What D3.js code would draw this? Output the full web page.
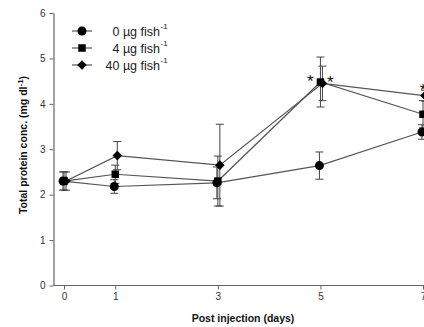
<!DOCTYPE html>
<html><head><meta charset="utf-8">
<script src="https://cdn.jsdelivr.net/npm/d3@7"></script>
<style>body{margin:0;background:#fff;}svg{display:block;font-family:"Liberation Sans",Arial,sans-serif;}</style>
</head><body><svg id="c" width="424" height="327"></svg>
<script>
const days = [0, 1, 3, 5, 7];
const yTicks = [0, 1, 2, 3, 4, 5, 6];
const seriesNames = ["0 \u00b5g fish", "4 \u00b5g fish", "40 \u00b5g fish"];
const seriesShapes = ["circle", "square", "diamond"];
const dose0 = [2.30, 2.18, 2.26, 2.64, 3.38];
const dose0Err = [0.20, 0.15, 0.35, 0.30, 0.16];
const dose4 = [2.30, 2.45, 2.30, 4.48, 3.77];
const dose4Err = [0.20, 0.20, 0.55, 0.55, 0.30];
const dose40 = [2.30, 2.86, 2.65, 4.45, 4.18];
const dose40Err = [0.20, 0.31, 0.90, 0.38, 0.12];
const starPoints = [[5, 1], [5, 2], [7, 2]];

const values = [dose0, dose4, dose40];
const errs = [dose0Err, dose4Err, dose40Err];
const offsets = [-1, 0, 2];

const svg = d3.select("#c");
const x = d3.scaleLinear().domain([0, 7]).range([64, 423]);
const y = d3.scaleLinear().domain([0, 6]).range([285.5, 13]);
const axisCol = "#666", lineCol = "#555";

// axes
const xa = svg.append("g").attr("transform", "translate(0,285.5)")
  .call(d3.axisBottom(x).tickValues(days).tickFormat(d3.format("d")).tickSize(4).tickPadding(3).tickSizeOuter(0));
xa.select(".domain").attr("d", "M53.5,0H430");
const ya = svg.append("g").attr("transform", "translate(53.5,0)")
  .call(d3.axisLeft(y).tickValues(yTicks).tickFormat(d3.format("d")).tickSize(4).tickPadding(4).tickSizeOuter(0));
[xa, ya].forEach(g => {
  g.select(".domain").attr("stroke", axisCol).attr("stroke-width", 1.2);
  g.selectAll(".tick line").attr("stroke", axisCol);
  g.selectAll(".tick text").attr("fill", "#333").style("font-size", "10px").style("font-family", "Liberation Sans, Arial, sans-serif");
});

const sym = {
  circle: d3.symbol().type(d3.symbolCircle).size(64)(),
  square: d3.symbol().type(d3.symbolSquare).size(56)(),
  diamond: d3.symbol().type(d3.symbolSquare).size(46)()
};
const rot = { circle: 0, square: 0, diamond: 45 };

values.forEach((vals, s) => {
  const pts = days.map((d, i) => ({ px: x(d) + offsets[s], v: vals[i], e: errs[s][i] }));
  const line = d3.line().x(p => p.px).y(p => y(p.v));
  svg.append("path").datum(pts).attr("d", line).attr("fill", "none")
    .attr("stroke", lineCol).attr("stroke-width", 1.2);
  const eb = svg.append("g").attr("stroke", "#444").attr("stroke-width", 1);
  pts.forEach(p => {
    eb.append("line").attr("x1", p.px).attr("x2", p.px).attr("y1", y(p.v - p.e)).attr("y2", y(p.v + p.e));
    [p.v - p.e, p.v + p.e].forEach(v => eb.append("line")
      .attr("x1", p.px - 4).attr("x2", p.px + 4).attr("y1", y(v)).attr("y2", y(v)));
  });
});
values.forEach((vals, s) => {
  svg.append("g").selectAll("path").data(days.map((d, i) => [x(d) + offsets[s], y(vals[i])]))
    .join("path").attr("d", sym[seriesShapes[s]])
    .attr("transform", p => `translate(${p[0]},${p[1]}) rotate(${rot[seriesShapes[s]]})`)
    .attr("fill", "#000");
});

// asterisks
starPoints.forEach(([d, s]) => {
  const i = days.indexOf(d);
  const v = values[s][i];
  let px, py;
  if (d === 5) { px = x(d) + (s === 1 ? -10 : 10); py = y(v) - 5; }
  else { px = x(d); py = y(v + errs[s][i]) - 4; }
  svg.append("text").attr("x", px).attr("y", py + 10).attr("text-anchor", "middle")
    .style("font-size", "17px").attr("fill", "#111").text("*");
});

// legend
const lg = svg.append("g");
seriesNames.forEach((n, s) => {
  const ly = 31 + s * 17;
  lg.append("line").attr("x1", 72).attr("x2", 92).attr("y1", ly).attr("y2", ly).attr("stroke", lineCol).attr("stroke-width", 1.2);
  lg.append("path").attr("d", sym[seriesShapes[s]])
    .attr("transform", `translate(82,${ly}) rotate(${rot[seriesShapes[s]]})`).attr("fill", "#000");
  const t = lg.append("text").attr("x", 160).attr("y", ly + 4.5).attr("text-anchor", "end")
    .style("font-size", "12.5px").attr("fill", "#222");
  t.append("tspan").text(n);
  lg.append("text").attr("x", 160.5).attr("y", ly - 2).style("font-size", "8px").attr("fill", "#222").text("-1");
});

// titles
svg.append("text").attr("x", 243).attr("y", 322).attr("text-anchor", "middle")
  .style("font-size", "10.5px").style("font-weight", "bold").attr("fill", "#111").text("Post injection (days)");
const yt = svg.append("text").attr("transform", "translate(27,145) rotate(-90)").attr("text-anchor", "middle")
  .style("font-size", "10.5px").style("font-weight", "bold").attr("fill", "#111");
yt.append("tspan").text("Total protein conc. (mg dl");
yt.append("tspan").attr("dy", -4).style("font-size", "8px").text("-1");
yt.append("tspan").attr("dy", 4).text(")");
</script></body></html>
